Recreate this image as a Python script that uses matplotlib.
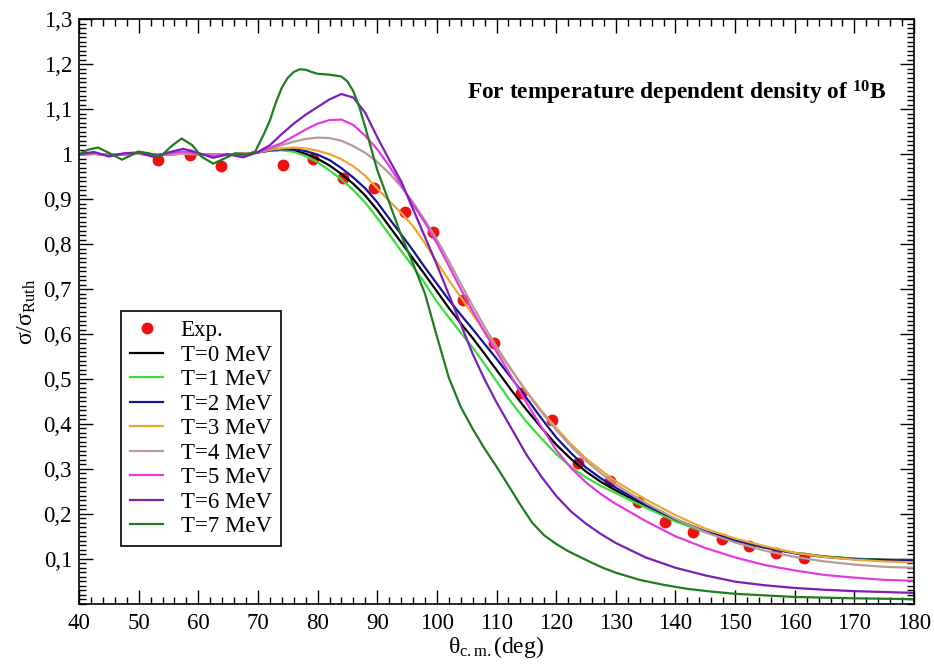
import matplotlib
matplotlib.use("Agg")
import matplotlib.pyplot as plt
from matplotlib.ticker import MultipleLocator, FixedLocator, FuncFormatter

plt.rcParams['font.family'] = ['Liberation Serif', 'DejaVu Serif']
plt.rcParams['mathtext.fontset'] = 'custom'
plt.rcParams['mathtext.rm'] = 'Liberation Serif'
plt.rcParams['mathtext.it'] = 'Liberation Serif:italic'
plt.rcParams['mathtext.bf'] = 'Liberation Serif:bold'

# ---- experimental data ----
exp_theta = [53.3, 58.6, 63.8, 74.2, 79.3, 84.3, 89.5, 94.6, 99.4, 104.4, 109.5,
             114.1, 119.3, 123.7, 129.0, 133.8, 138.3, 143.0, 147.8, 152.3, 156.9, 161.6]
exp_ratio = [0.988, 0.998, 0.973, 0.975, 0.990, 0.947, 0.925, 0.871, 0.826, 0.675, 0.580,
             0.468, 0.408, 0.314, 0.274, 0.227, 0.182, 0.160, 0.143, 0.128, 0.112, 0.101]

# ---- calculated curves (T = 0..6 MeV) on a shared angle grid ----
theta = [40, 42.5, 45, 47.5, 50, 52.5, 55, 57.5, 60, 62.5, 65, 67.5, 70,
         72, 74, 76, 78, 80, 82, 84, 86, 88, 90, 92, 94, 96, 98, 100, 102, 104, 106, 108, 110,
         112.5, 115, 117.5, 120, 122.5, 125, 127.5, 130,
         135, 140, 145, 150, 155, 160, 165, 170, 175, 180]

t0 = [1.000, 1.001, 0.999, 1.000, 1.001, 0.999, 1.000, 1.001, 1.000, 0.999, 1.000, 1.001, 1.004,
      1.008, 1.010, 1.008, 1.001, 0.990, 0.975, 0.956, 0.934, 0.908, 0.876, 0.840, 0.804, 0.768,
      0.732, 0.695, 0.658, 0.624, 0.591, 0.556, 0.520,
      0.475, 0.432, 0.392, 0.354, 0.322, 0.294, 0.271, 0.252,
      0.217, 0.185, 0.160, 0.141, 0.125, 0.113, 0.105, 0.100, 0.098, 0.097]
t1 = [1.000, 1.001, 0.999, 1.000, 1.001, 0.999, 1.000, 1.001, 1.000, 0.999, 1.000, 1.001, 1.004,
      1.008, 1.009, 1.005, 0.996, 0.982, 0.964, 0.944, 0.920, 0.892, 0.858, 0.822, 0.785, 0.750,
      0.713, 0.672, 0.637, 0.603, 0.570, 0.533, 0.495,
      0.448, 0.405, 0.368, 0.333, 0.304, 0.281, 0.262, 0.246,
      0.214, 0.183, 0.159, 0.140, 0.125, 0.113, 0.105, 0.100, 0.097, 0.096]
t2 = [1.000, 1.001, 0.999, 1.000, 1.001, 0.999, 1.000, 1.001, 1.000, 0.999, 1.000, 1.001, 1.004,
      1.009, 1.011, 1.011, 1.007, 0.999, 0.987, 0.969, 0.948, 0.924, 0.893, 0.857, 0.822, 0.786,
      0.748, 0.712, 0.676, 0.643, 0.611, 0.578, 0.545,
      0.502, 0.458, 0.413, 0.370, 0.335, 0.303, 0.279, 0.258,
      0.220, 0.188, 0.161, 0.141, 0.125, 0.112, 0.104, 0.099, 0.097, 0.096]
t3 = [1.000, 1.001, 0.999, 1.000, 1.001, 0.999, 1.000, 1.001, 1.000, 0.999, 1.000, 1.001, 1.004,
      1.010, 1.013, 1.015, 1.013, 1.008, 1.000, 0.989, 0.973, 0.952, 0.924, 0.896, 0.870, 0.840,
      0.802, 0.760, 0.720, 0.682, 0.644, 0.606, 0.568,
      0.520, 0.473, 0.430, 0.391, 0.355, 0.323, 0.297, 0.272,
      0.232, 0.197, 0.167, 0.145, 0.128, 0.113, 0.104, 0.098, 0.094, 0.092]
t4 = [1.000, 1.001, 0.999, 1.000, 1.001, 0.999, 1.000, 1.001, 1.000, 0.999, 1.000, 1.001, 1.004,
      1.012, 1.020, 1.028, 1.034, 1.037, 1.036, 1.030, 1.018, 1.003, 0.983, 0.958, 0.928, 0.893,
      0.853, 0.810, 0.763, 0.712, 0.663, 0.616, 0.572,
      0.520, 0.471, 0.427, 0.387, 0.350, 0.318, 0.290, 0.265,
      0.224, 0.189, 0.159, 0.136, 0.118, 0.104, 0.094, 0.087, 0.082, 0.080]
t5 = [1.000, 1.003, 0.997, 1.001, 1.003, 0.996, 1.002, 1.006, 1.001, 0.996, 1.000, 0.996, 1.004,
      1.014, 1.025, 1.040, 1.055, 1.068, 1.076, 1.077, 1.065, 1.041, 1.011, 0.974, 0.932, 0.888,
      0.848, 0.802, 0.752, 0.700, 0.651, 0.604, 0.561,
      0.505, 0.448, 0.394, 0.342, 0.302, 0.270, 0.244, 0.222,
      0.184, 0.150, 0.124, 0.103, 0.086, 0.074, 0.064, 0.058, 0.053, 0.051]
t6 = [1.000, 1.005, 0.995, 1.002, 1.004, 0.994, 1.004, 1.012, 1.003, 0.992, 1.000, 0.993, 1.005,
      1.020, 1.045, 1.068, 1.088, 1.105, 1.122, 1.134, 1.126, 1.092, 1.038, 0.988, 0.940, 0.878,
      0.816, 0.754, 0.688, 0.622, 0.556, 0.499, 0.448,
      0.390, 0.332, 0.283, 0.240, 0.205, 0.178, 0.155, 0.135,
      0.103, 0.080, 0.063, 0.049, 0.041, 0.035, 0.031, 0.028, 0.026, 0.024]

# ---- T = 7 MeV curve (oscillating, own grid) ----
theta7 = [40, 41.5, 43.2, 45, 47.2, 48.5, 49.9, 51.8, 53.6, 55.5, 57.2, 59, 60.5, 62.5, 64.3,
          66.2, 68, 69.5, 71, 72, 73, 74, 75, 76, 77, 78, 79, 80, 82, 84, 85, 86, 87, 88, 89,
          90, 92, 94, 96, 98, 100, 102, 104, 106, 108, 110, 112, 114, 116, 118, 120, 122, 124,
          126, 128, 130, 134, 138, 142, 146, 150, 160, 170, 180]
t7 = [1.000, 1.010, 1.015, 1.003, 0.988, 0.996, 1.006, 1.002, 0.994, 1.018, 1.035, 1.020, 0.995,
      0.979, 0.990, 1.002, 0.999, 1.005, 1.045, 1.075, 1.115, 1.148, 1.170, 1.183, 1.189, 1.188,
      1.183, 1.179, 1.177, 1.173, 1.162, 1.140, 1.105, 1.060, 1.012,
      0.965, 0.893, 0.820, 0.757, 0.690, 0.595, 0.503, 0.438, 0.389, 0.345, 0.305, 0.263, 0.220,
      0.180, 0.152, 0.133, 0.117, 0.104, 0.091, 0.079, 0.069, 0.053, 0.042, 0.033, 0.027, 0.022,
      0.015, 0.012, 0.010]

labels = ["T=0 MeV", "T=1 MeV", "T=2 MeV", "T=3 MeV", "T=4 MeV", "T=5 MeV", "T=6 MeV", "T=7 MeV"]
colors = ["#000000", "#3cdc3c", "#141496", "#eea632", "#b89a9a", "#e03ce0", "#7d1fb4", "#1e7d1e"]

x_ticks = list(range(40, 181, 10))
y_ticks = [0.1, 0.2, 0.3, 0.4, 0.5, 0.6, 0.7, 0.8, 0.9, 1.0, 1.1, 1.2, 1.3]

fig = plt.figure(figsize=(9.34, 6.64), dpi=100)
ax = fig.add_axes([0.0846, 0.0908, 0.894, 0.880])

ax.plot(exp_theta, exp_ratio, 'o', color="#ee1111", markersize=7.5, label="Exp.", zorder=1)
series = [(theta, t0), (theta, t1), (theta, t2), (theta, t3), (theta, t4), (theta, t5),
          (theta, t6), (theta7, t7)]
for (xs, ys), lab, col in zip(series, labels, colors):
    ax.plot(xs, ys, '-', color=col, lw=1.6, label=lab, zorder=2)

ax.set_xlim(40, 180)
ax.set_ylim(0, 1.3)
ax.xaxis.set_major_locator(FixedLocator(x_ticks))
ax.xaxis.set_minor_locator(MultipleLocator(2))
ax.yaxis.set_major_locator(FixedLocator(y_ticks))
ax.yaxis.set_minor_locator(MultipleLocator(0.01))


def comma_fmt(v, pos):
    s = f"{v:.1f}"
    if s.endswith(".0"):
        s = s[:-2]
    return s.replace(".", ",")


ax.yaxis.set_major_formatter(FuncFormatter(comma_fmt))
ax.tick_params(which='both', direction='in', top=True, right=True, width=1.0, labelsize=16.5)
ax.tick_params(which='major', length=10)
ax.tick_params(which='minor', length=5)
ax.tick_params(axis='x', pad=7)
ax.tick_params(axis='y', pad=5)
for sp in ax.spines.values():
    sp.set_linewidth(1.2)

ax.set_xlabel("θ$_{\\mathrm{c.m.}}$(deg)", fontsize=17, labelpad=0)
ax.set_ylabel("σ/σ$_{\\mathrm{Ruth}}$", fontsize=17, labelpad=4)

ax.text(0.4647, 0.874, "For temperature dependent density of $^{\\mathbf{10}}$B",
        transform=ax.transAxes, fontsize=16.8, fontweight='bold', ha='left', va='center')

leg = ax.legend(loc='upper left', bbox_to_anchor=(0.0503, 0.501), fontsize=16.5,
                frameon=True, fancybox=False, edgecolor='black', framealpha=1,
                handlelength=1.45, labelspacing=0.15, borderpad=0.4, handletextpad=0.75,
                borderaxespad=0)
leg.get_frame().set_linewidth(1.2)

fig.savefig("out.png", dpi=100)
